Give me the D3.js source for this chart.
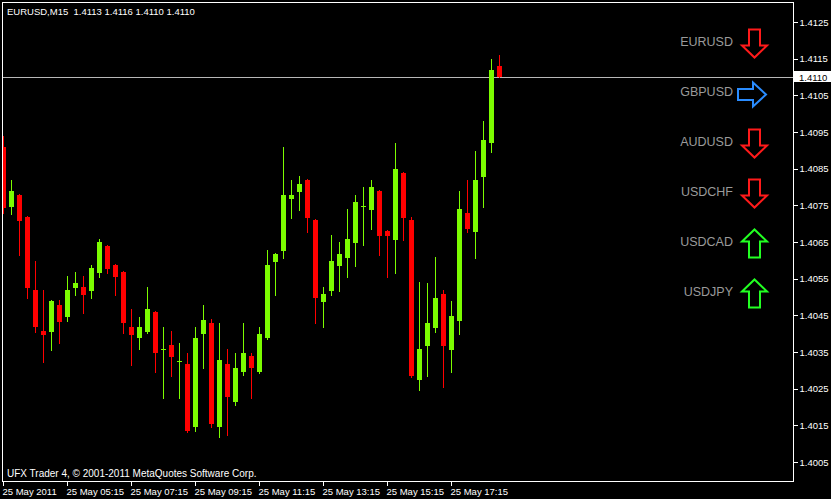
<!DOCTYPE html>
<html><head><meta charset="utf-8">
<script src="https://cdn.jsdelivr.net/npm/d3@7"></script>
<style>
html,body{margin:0;padding:0;background:#000;}
svg{display:block;}
text{font-family:"Liberation Sans",Arial,sans-serif;}
</style></head>
<body>
<svg id="c" width="831" height="499"></svg>
<script>
// ---- data ----
const symbol = "EURUSD,M15";
const opens  = [1.40909,1.40745,1.40778,1.40718,1.40519,1.40407,1.40405,1.40478,1.40445,1.40525,1.40527,1.40516,1.40565,1.40639,1.40587,1.40568,1.40418,1.40388,1.40405,1.40459,1.40358,1.40369,1.40325,1.40317,1.40145,1.40399,1.40429,1.40145,1.40317,1.40214,1.40295,1.40339,1.40295,1.40388,1.40595,1.40625,1.40767,1.40786,1.40819,1.40710,1.40486,1.40516,1.40585,1.40606,1.40647,1.40748,1.40737,1.40789,1.40680,1.40655,1.40838,1.40710,1.40274,1.40366,1.40415,1.40508,1.40355,1.40435,1.40729,1.40677,1.40827,1.40920,1.41130];
const highs  = [1.40939,1.40819,1.40781,1.40721,1.40598,1.40519,1.40492,1.40492,1.40557,1.40568,1.40557,1.40587,1.40658,1.40642,1.40590,1.40571,1.40467,1.40445,1.40527,1.40462,1.40418,1.40407,1.40375,1.40347,1.40418,1.40478,1.40440,1.40429,1.40358,1.40347,1.40429,1.40347,1.40418,1.40628,1.40620,1.40909,1.40819,1.40830,1.40822,1.40713,1.40527,1.40669,1.40650,1.40740,1.40778,1.40800,1.40819,1.40792,1.40683,1.40920,1.40841,1.40718,1.40541,1.40538,1.40609,1.40519,1.40489,1.40789,1.40819,1.40898,1.40980,1.41149,1.41160];
const lows   = [1.40729,1.40726,1.40615,1.40497,1.40405,1.40323,1.40355,1.40375,1.40435,1.40505,1.40456,1.40497,1.40555,1.40565,1.40505,1.40402,1.40315,1.40358,1.40402,1.40295,1.40225,1.40285,1.40225,1.40132,1.40135,1.40306,1.40145,1.40118,1.40124,1.40205,1.40287,1.40225,1.40293,1.40386,1.40505,1.40606,1.40715,1.40737,1.40677,1.40429,1.40418,1.40505,1.40516,1.40555,1.40585,1.40642,1.40685,1.40615,1.40555,1.40565,1.40655,1.40282,1.40246,1.40285,1.40405,1.40255,1.40295,1.40399,1.40677,1.40606,1.40745,1.40895,1.41100];
const closes = [1.40743,1.40789,1.40707,1.40525,1.40418,1.40396,1.40489,1.40432,1.40519,1.40538,1.40505,1.40579,1.40650,1.40576,1.40555,1.40429,1.40396,1.40418,1.40467,1.40347,1.40358,1.40336,1.40325,1.40135,1.40388,1.40437,1.40154,1.40328,1.40227,1.40306,1.40347,1.40306,1.40399,1.40587,1.40617,1.40778,1.40778,1.40808,1.40715,1.40497,1.40508,1.40598,1.40617,1.40658,1.40759,1.40748,1.40800,1.40666,1.40666,1.40849,1.40715,1.40285,1.40358,1.40429,1.40497,1.40366,1.40448,1.40740,1.40685,1.40819,1.40928,1.41119,1.41100];
const priceTicks = [1.4125,1.4115,1.4105,1.4095,1.4085,1.4075,1.4065,1.4055,1.4045,1.4035,1.4025,1.4015,1.4005];
const timeTickIndex = [0,8,16,24,32,40,48,56];
const timeTickLabels = ["25 May 2011","25 May 05:15","25 May 07:15","25 May 09:15","25 May 11:15","25 May 13:15","25 May 15:15","25 May 17:15"];
const pairs = ["EURUSD","GBPUSD","AUDUSD","USDCHF","USDCAD","USDJPY"];
const pairDirection = ["down","right","down","down","up","up"];
const currentPrice = 1.4110;
const copyright = "UFX Trader 4, \u00A9 2001-2011 MetaQuotes Software Corp.";

// ---- layout ----
const svg = d3.select("#c");
const L = 2, R = 793, T = 2, B = 481;
const x = d3.scaleLinear().domain([0, 62]).range([3.5, 499.5]);
const y = d3.scaleLinear().domain([1.4005, 1.4125]).range([462, 22]);
const bull = "#7CFC00", bear = "#FF0000";

svg.append("rect").attr("width",831).attr("height",499).attr("fill","#000");

svg.append("defs").append("clipPath").attr("id","plot")
  .append("rect").attr("x",L).attr("y",T).attr("width",R-L).attr("height",B-T);

const plot = svg.append("g").attr("clip-path","url(#plot)").attr("shape-rendering","crispEdges");

// current price line
plot.append("line").attr("x1",L).attr("x2",R)
  .attr("y1",Math.round(y(currentPrice))+0.5).attr("y2",Math.round(y(currentPrice))+0.5)
  .attr("stroke","#B8B8B8").attr("stroke-width",1);

const bars = d3.range(opens.length).map(i => ({i, o:opens[i], h:highs[i], l:lows[i], c:closes[i]}));
const g = plot.selectAll("g.bar").data(bars).join("g").attr("class","bar");
g.append("line")
  .attr("x1", d => x(d.i)).attr("x2", d => x(d.i))
  .attr("y1", d => Math.round(y(d.h))).attr("y2", d => Math.round(y(d.l))+1)
  .attr("stroke", d => d.c >= d.o ? bull : bear).attr("stroke-width",1);
g.append("rect")
  .attr("x", d => x(d.i) - 2.5)
  .attr("width", 5)
  .attr("y", d => Math.round(y(Math.max(d.o,d.c))))
  .attr("height", d => Math.max(1, Math.round(y(Math.min(d.o,d.c))) - Math.round(y(Math.max(d.o,d.c)))))
  .attr("fill", d => d.c >= d.o ? bull : bear);

// frame
svg.append("rect").attr("x",L+0.5).attr("y",T+0.5).attr("width",R-L).attr("height",B-T)
  .attr("fill","none").attr("stroke","#fff").attr("stroke-width",1).attr("shape-rendering","crispEdges");

// right axis
const yAxis = d3.axisRight(y).tickValues(priceTicks).tickFormat(d3.format(".4f")).tickSize(4).tickPadding(2);
const ya = svg.append("g").attr("transform",`translate(${R+0.5},0)`).call(yAxis);
ya.select(".domain").remove();
ya.selectAll("line").attr("stroke","#fff").attr("shape-rendering","crispEdges");
ya.selectAll("text").attr("fill","#fff").style("font-size","9.5px").style("font-family","'Liberation Sans',Arial,sans-serif");

// current price box
const cpY = Math.round(y(currentPrice));
svg.append("rect").attr("x",R+1).attr("y",cpY-6).attr("width",831-R-1).attr("height",11).attr("fill","#fff");
svg.append("text").attr("x",R+6).attr("y",cpY+3.5).attr("fill","#000").style("font-size","9.5px")
  .text(d3.format(".4f")(currentPrice));

// bottom axis
const xAxis = d3.axisBottom(x).tickValues(timeTickIndex).tickFormat((d,i) => timeTickLabels[i]).tickSize(4).tickPadding(3);
const xa = svg.append("g").attr("transform",`translate(-0.5,${B+0.5})`).call(xAxis);
xa.select(".domain").remove();
xa.selectAll("line").attr("stroke","#fff").attr("shape-rendering","crispEdges");
xa.selectAll("text").attr("fill","#fff").attr("text-anchor","start").attr("dx",-1)
  .style("font-size","9.5px").style("font-family","'Liberation Sans',Arial,sans-serif");

// header and copyright
svg.append("text").attr("x",7).attr("y",15).attr("fill","#fff").style("font-size","9.5px")
  .attr("xml:space","preserve")
  .text(`${symbol}  ${d3.format(".4f")(opens[62])} ${d3.format(".4f")(highs[62])} ${d3.format(".4f")(lows[62])} ${d3.format(".4f")(closes[62])}`);
svg.append("text").attr("x",7).attr("y",477).attr("fill","#fff").style("font-size","10px").text(copyright);

// pair arrows
const arrowColor = {down:"#FF1A1A", up:"#22FF22", right:"#2A8CFF"};
function arrowPath(dir, cx, cy) {
  if (dir === "down") {
    const t = cy - 14;
    return `M${cx-5.5},${t} L${cx+5.5},${t} L${cx+5.5},${t+16} L${cx+12.5},${t+16} L${cx},${t+28} L${cx-12.5},${t+16} L${cx-5.5},${t+16} Z`;
  } else if (dir === "up") {
    const b = cy + 14;
    return `M${cx-5.5},${b} L${cx+5.5},${b} L${cx+5.5},${b-16} L${cx+12.5},${b-16} L${cx},${b-28} L${cx-12.5},${b-16} L${cx-5.5},${b-16} Z`;
  } else {
    const l = cx - 14;
    return `M${l},${cy-5.5} L${l+15},${cy-5.5} L${l+15},${cy-12} L${l+28},${cy} L${l+15},${cy+12} L${l+15},${cy+5.5} L${l},${cy+5.5} Z`;
  }
}
const rowY = d3.scaleLinear().domain([0,5]).range([41,291]);
const pg = svg.selectAll("g.pair").data(pairs).join("g").attr("class","pair");
pg.append("text").attr("x",733).attr("text-anchor","end").attr("y",(d,i)=>rowY(i)+4.5).attr("fill","#9A9A9A")
  .style("font-size","12.5px").text(d=>d);
pg.append("path").attr("d",(d,i)=>arrowPath(pairDirection[i], pairDirection[i]==="right"?752:754.5, rowY(i)+(pairDirection[i]==="right"?3.5:2.5)))
  .attr("fill","none").attr("stroke",(d,i)=>arrowColor[pairDirection[i]]).attr("stroke-width",2);
</script>
</body></html>
